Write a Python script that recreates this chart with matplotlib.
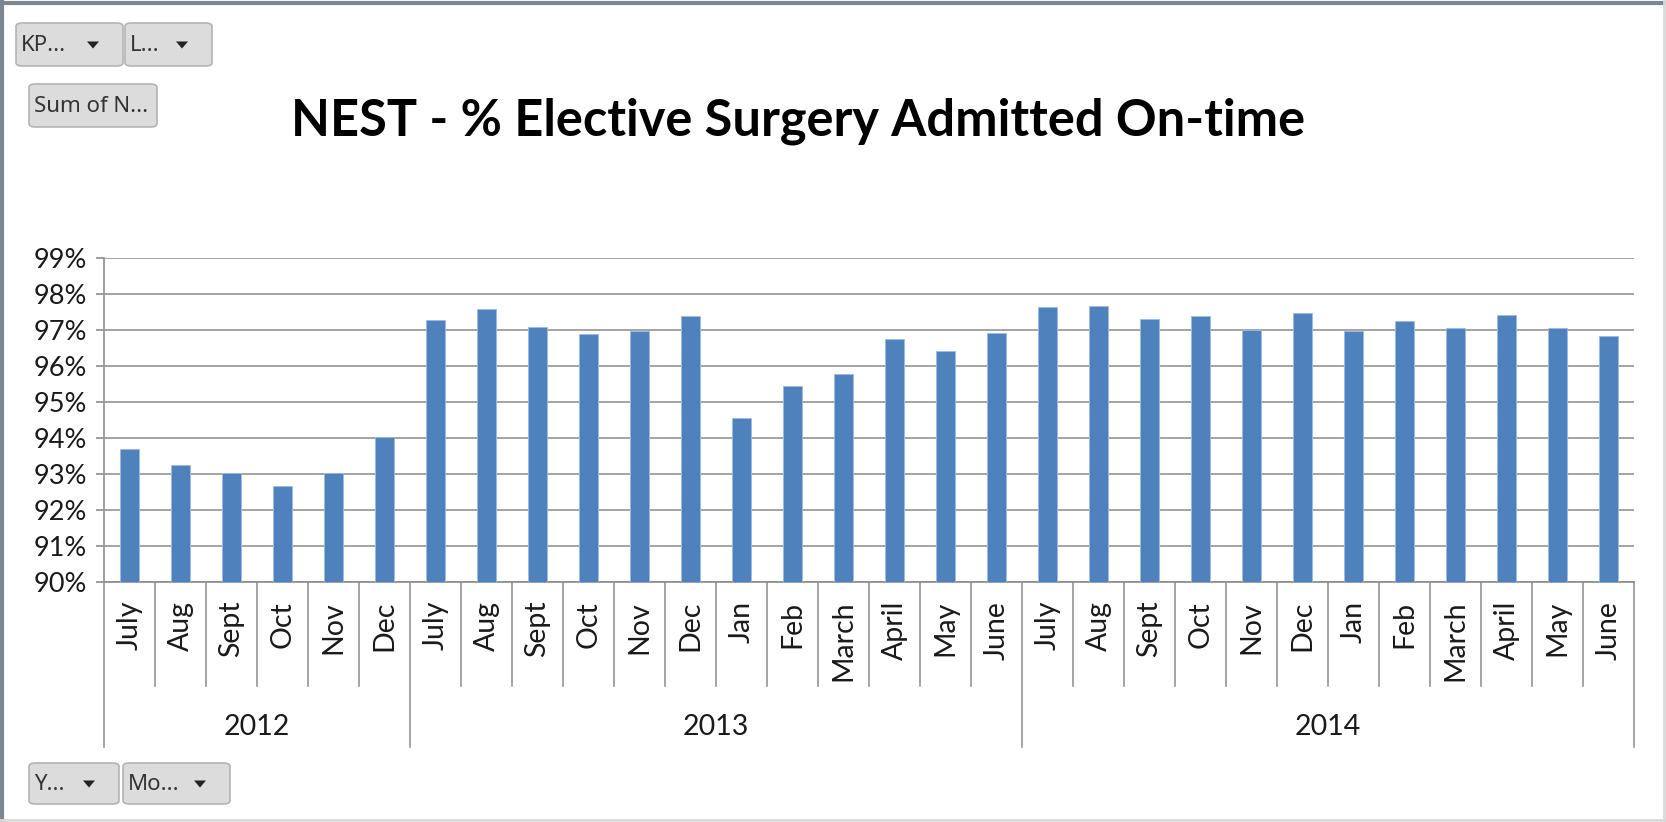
import numpy as np
import matplotlib
matplotlib.use("Agg")
import matplotlib.pyplot as plt
import matplotlib.transforms as mtransforms
from matplotlib.patches import FancyBboxPatch, Polygon
from matplotlib.lines import Line2D

# data
years = ["2012", "2013", "2014"]
months_2012 = ["July", "Aug", "Sept", "Oct", "Nov", "Dec"]
months_fy = ["July", "Aug", "Sept", "Oct", "Nov", "Dec",
             "Jan", "Feb", "March", "April", "May", "June"]
pct_2012 = [93.70, 93.24, 93.03, 92.66, 93.02, 94.03]
pct_2013 = [97.27, 97.57, 97.07, 96.88, 96.98, 97.38,
            94.56, 95.44, 95.77, 96.76, 96.43, 96.93]
pct_2014 = [97.63, 97.67, 97.30, 97.38, 97.00, 97.47,
            96.98, 97.25, 97.05, 97.42, 97.05, 96.83]
y_ticks = [90, 91, 92, 93, 94, 95, 96, 97, 98, 99]

months = months_2012 + months_fy + months_fy
values = pct_2012 + pct_2013 + pct_2014
group_sizes = [len(pct_2012), len(pct_2013), len(pct_2014)]

W, H = 1666, 822
FONT = "Lato"
GRID = "#a3a3a3"
AXC = "#8c8c8c"

fig = plt.figure(figsize=(W / 100, H / 100), dpi=100)
fig.patch.set_facecolor("white")


def fx(px):
    return px / W


def fy(py):
    return 1 - py / H


# plot area
ax = fig.add_axes([fx(104), fy(582), fx(1634 - 104), (582 - 258) / H])
x = np.arange(len(values))
ax.bar(x, values, width=0.39, color="#4f81bd", edgecolor="#9dbbe2",
       linewidth=0.6, zorder=3, bottom=0)
ax.set_ylim(90, 99)
ax.set_xlim(-0.5, len(values) - 0.5)
ax.set_yticks(y_ticks)
ax.set_yticklabels([f"{v}%" for v in y_ticks], fontfamily=FONT, fontsize=19.5,
                   color="#1a1a1a")
ax.yaxis.grid(True, color=GRID, linewidth=1.4, zorder=0)
ax.set_xticks([])
for s in ["top", "right"]:
    ax.spines[s].set_visible(False)
ax.spines["left"].set_color(AXC)
ax.spines["bottom"].set_color(AXC)
ax.spines["left"].set_linewidth(1.2)
ax.spines["bottom"].set_linewidth(1.2)
ax.tick_params(axis="y", length=6, color=AXC, width=1.2, pad=6)

# multi-level category axis
trans = mtransforms.blended_transform_factory(ax.transData, ax.transAxes)
year_edges = np.concatenate([[0], np.cumsum(group_sizes)]) - 0.5
for b in np.arange(len(values) + 1) - 0.5:
    bottom = -0.508 if np.any(np.isclose(year_edges, b)) else -0.32
    ax.add_line(Line2D([b, b], [0, bottom], transform=trans, color=AXC,
                       linewidth=1.1, clip_on=False))
for i, m in enumerate(months):
    ax.text(i, -0.058, m, transform=trans, rotation=90, ha="center", va="top",
            fontfamily=FONT, fontsize=20.5, color="#1a1a1a")
for k, yr in enumerate(years):
    c = (year_edges[k] + year_edges[k + 1]) / 2
    ax.text(c, -0.449, yr, transform=trans, ha="center", va="center",
            fontfamily=FONT, fontsize=20.5, color="#1a1a1a")

# title
fig.text(fx(798), fy(121), "NEST - % Elective Surgery Admitted On-time",
         ha="center", va="center", fontfamily=FONT, fontweight="bold",
         fontsize=36.4, color="black")


# pivot-chart field buttons
def button(x0, y0, x1, y1, label, arrow=True):
    box = FancyBboxPatch((fx(x0), fy(y1)), fx(x1 - x0), (y1 - y0) / H,
                         boxstyle="round,pad=0,rounding_size=0.004",
                         transform=fig.transFigure, facecolor="#dcdcdc",
                         edgecolor="#b4b4b4", linewidth=1.2)
    fig.add_artist(box)
    fig.text(fx(x0 + 5), fy((y0 + y1) / 2 + 1), label, ha="left", va="center",
             fontfamily="Noto Sans", fontsize=16, color="#333333")
    if arrow:
        ax_ = x1 - 30
        ym = (y0 + y1) / 2
        tri = Polygon([(fx(ax_ - 6), fy(ym - 3)), (fx(ax_ + 6), fy(ym - 3)),
                       (fx(ax_), fy(ym + 4))], closed=True,
                      transform=fig.transFigure, facecolor="#222222",
                      edgecolor="none")
        fig.add_artist(tri)


button(16, 23, 123, 66, "KP...")
button(125, 23, 212, 66, "L...")
button(29, 84, 157, 127, "Sum of N...", arrow=False)
button(29, 763, 119, 804, "Y...")
button(123, 763, 230, 804, "Mo...")

# outer frame
fig.add_artist(Line2D([0, 1], [fy(3), fy(3)], transform=fig.transFigure,
                      color="#7d868f", linewidth=3))
fig.add_artist(Line2D([fx(2), fx(2)], [0, 1], transform=fig.transFigure,
                      color="#7d868f", linewidth=3))
fig.add_artist(Line2D([fx(W - 2), fx(W - 2)], [0, 1],
                      transform=fig.transFigure, color="#d9d9d9", linewidth=2))
fig.add_artist(Line2D([0, 1], [fy(H - 2), fy(H - 2)],
                      transform=fig.transFigure, color="#d9d9d9", linewidth=2))

fig.savefig("out.png", dpi=100)
